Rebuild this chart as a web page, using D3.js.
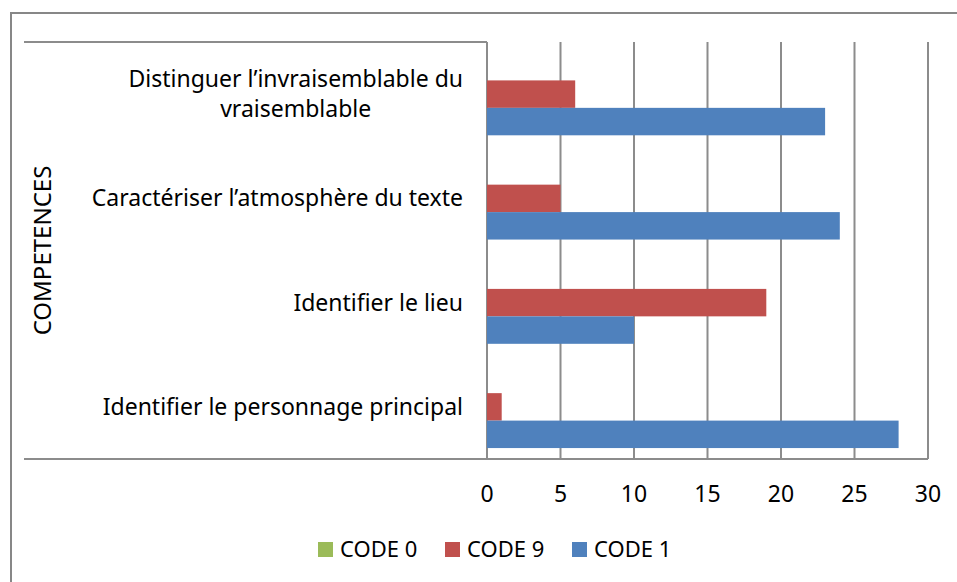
<!DOCTYPE html>
<html><head><meta charset="utf-8">
<script src="https://cdn.jsdelivr.net/npm/d3@7"></script>
<style>body{margin:0;background:#fff}svg{display:block}</style>
</head><body>
<script>
const categories = [
  ["Identifier le personnage principal"],
  ["Identifier le lieu"],
  ["Caractériser l\u2019atmosphère du texte"],
  ["Distinguer l\u2019invraisemblable du", "vraisemblable"]
];
const seriesNames = ["CODE 0", "CODE 9", "CODE 1"];
const code0 = [0, 0, 0, 0];
const code9 = [1, 19, 5, 6];
const code1 = [28, 10, 24, 23];
const xTicks = [0, 5, 10, 15, 20, 25, 30];
const axisTitle = "COMPETENCES";
const colors = ["#9BBB59", "#C0504D", "#4F81BD"];

(function () {
const W = 957, H = 582;
const font = "'Noto Sans', sans-serif";
const fs = 23;
const svg = d3.select("body").append("svg").attr("width", W).attr("height", H);

svg.append("rect").attr("x", 11).attr("y", 13).attr("width", 1000).attr("height", 1000)
  .attr("fill", "none").attr("stroke", "#878787").attr("stroke-width", 2);

const plotTop = 42, plotBottom = 459, x0 = 487, x1 = 928, labelLeft = 24;
const x = d3.scaleLinear().domain([0, 30]).range([x0, x1]);
const catIdx = d3.range(categories.length);
const y = d3.scaleBand().domain(catIdx).range([plotBottom, plotTop]).paddingInner(0).paddingOuter(0);
const gapFrac = 0.21;
const ySub = d3.scaleBand().domain([0, 1, 2])
  .range([y.bandwidth() * gapFrac / 2, y.bandwidth() * (1 - gapFrac / 2)]);

const gridColor = "#8c8c8c";
svg.append("g").selectAll("line").data(xTicks).join("line")
  .attr("x1", d => x(d)).attr("x2", d => x(d)).attr("y1", plotTop).attr("y2", plotBottom)
  .attr("stroke", gridColor).attr("stroke-width", 2);
svg.append("line").attr("x1", labelLeft).attr("x2", x0).attr("y1", plotTop).attr("y2", plotTop)
  .attr("stroke", gridColor).attr("stroke-width", 2);
svg.append("line").attr("x1", labelLeft).attr("x2", x1).attr("y1", plotBottom).attr("y2", plotBottom)
  .attr("stroke", gridColor).attr("stroke-width", 2);

const series = [code0, code9, code1];
series.forEach((vals, s) => {
  svg.append("g").selectAll("rect").data(vals).join("rect")
    .attr("x", x(0))
    .attr("y", (d, i) => y(i) + ySub(s))
    .attr("width", d => x(d) - x(0))
    .attr("height", ySub.bandwidth())
    .attr("fill", colors[s]);
});

svg.append("g").selectAll("text").data(xTicks).join("text")
  .attr("x", d => x(d)).attr("y", 502)
  .attr("text-anchor", "middle")
  .attr("font-family", font).attr("font-size", fs).attr("fill", "#000")
  .text(d => d);

const lineH = 30;
catIdx.forEach(i => {
  const lines = categories[i];
  const cy = y(i) + y.bandwidth() / 2;
  const t = svg.append("text")
    .attr("font-family", font).attr("font-size", fs).attr("fill", "#000");
  if (lines.length === 1) {
    t.attr("x", 463).attr("y", cy + 8).attr("text-anchor", "end").text(lines[0]);
  } else {
    const tmp = svg.append("text").attr("font-family", font).attr("font-size", fs).text(lines[0]);
    const w = tmp.node().getComputedTextLength();
    tmp.remove();
    const cx = 463 - w / 2;
    lines.forEach((ln, k) => {
      t.append("tspan").attr("x", cx).attr("text-anchor", "middle")
        .attr("y", cy + 8 + (k - (lines.length - 1) / 2) * lineH).text(ln);
    });
  }
});

svg.append("text")
  .attr("transform", `translate(51,${(plotTop + plotBottom) / 2}) rotate(-90)`)
  .attr("text-anchor", "middle")
  .attr("font-family", font).attr("font-size", 24).attr("fill", "#000")
  .text(axisTitle);

const legendX = [318, 445, 572];
const lg = svg.append("g");
seriesNames.forEach((n, i) => {
  lg.append("rect").attr("x", legendX[i]).attr("y", 542).attr("width", 15).attr("height", 15)
    .attr("fill", colors[i]);
  lg.append("text").attr("x", legendX[i] + 22).attr("y", 557)
    .attr("font-family", font).attr("font-size", 22).attr("fill", "#000").text(n);
});
})();
</script>
</body></html>
